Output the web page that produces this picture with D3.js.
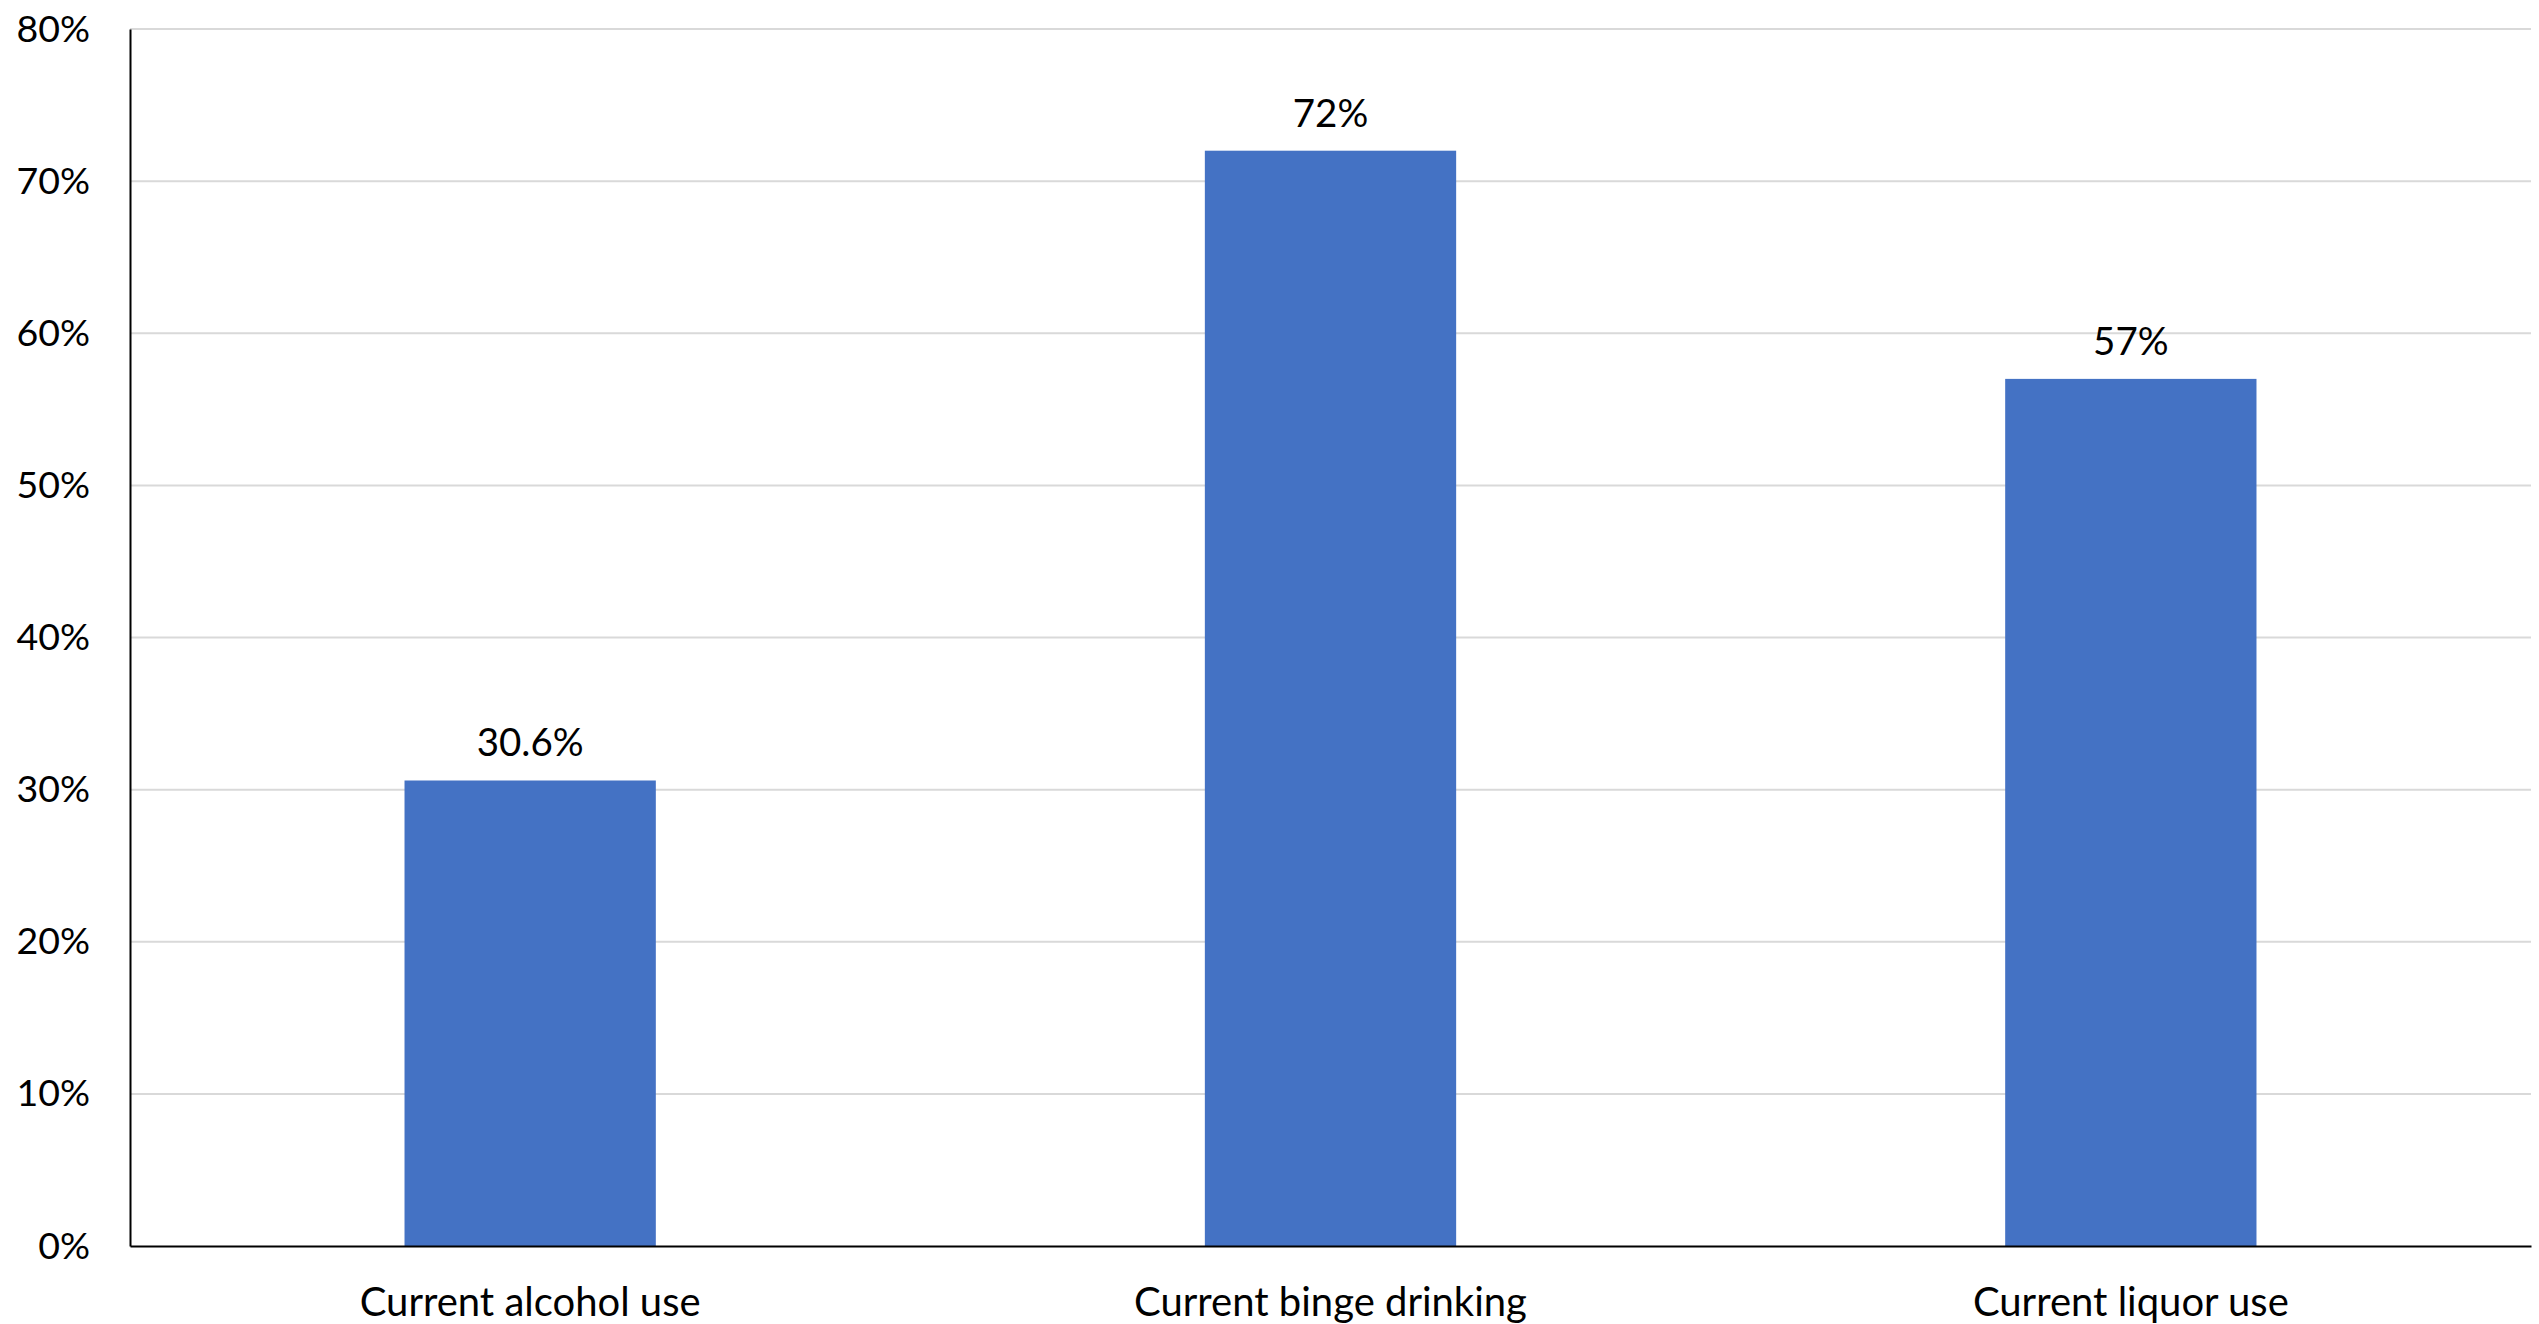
<!DOCTYPE html>
<html>
<head>
<meta charset="utf-8">
<script src="https://cdn.jsdelivr.net/npm/d3@7"></script>
<style>
  html, body { margin: 0; padding: 0; background: #fff; }
  svg { display: block; }
  text { font-family: Lato, "Open Sans", sans-serif; fill: #000; }
</style>
</head>
<body>
<svg id="chart" width="2539" height="1324"></svg>
<script>
const categories = ["Current alcohol use", "Current binge drinking", "Current liquor use"];
const values = [30.6, 72, 57];
const valueLabels = ["30.6%", "72%", "57%"];
const yTicks = [0, 10, 20, 30, 40, 50, 60, 70, 80];

const W = 2539, H = 1324;
const margin = { top: 29, right: 8, bottom: 78, left: 130 };
const svg = d3.select("#chart");

const x = d3.scaleBand()
  .domain(categories)
  .range([margin.left, W - margin.right])
  .paddingInner(0.686)
  .paddingOuter(0.343);

const y = d3.scaleLinear()
  .domain([0, 80])
  .range([H - margin.bottom, margin.top]);

// gridlines
svg.append("g")
  .selectAll("line")
  .data(yTicks.filter(d => d > 0))
  .join("line")
  .attr("x1", margin.left)
  .attr("x2", W - margin.right)
  .attr("y1", d => y(d))
  .attr("y2", d => y(d))
  .attr("stroke", "#d9d9d9")
  .attr("stroke-width", 2);

// bars
svg.append("g")
  .selectAll("rect")
  .data(values)
  .join("rect")
  .attr("x", (d, i) => x(categories[i]))
  .attr("width", x.bandwidth())
  .attr("y", d => y(d))
  .attr("height", d => y(0) - y(d))
  .attr("fill", "#4472c4");

// data labels
svg.append("g")
  .selectAll("text")
  .data(values)
  .join("text")
  .attr("x", (d, i) => x(categories[i]) + x.bandwidth() / 2)
  .attr("y", d => y(d) - 24)
  .attr("text-anchor", "middle")
  .style("font-size", "38.5px")
  .text((d, i) => valueLabels[i]);

// y axis
const yAxis = d3.axisLeft(y)
  .tickValues(yTicks)
  .tickSize(0)
  .tickPadding(40)
  .tickFormat(d => d + "%");
const gy = svg.append("g")
  .attr("transform", `translate(${margin.left},0)`)
  .call(yAxis);
gy.select(".domain").attr("stroke", "#000").attr("stroke-width", 2);
gy.selectAll("text").style("font-size", "37.5px").style("font-family", "Lato, 'Open Sans', sans-serif").attr("fill", "#000");

// x axis
const xAxis = d3.axisBottom(x).tickSize(0).tickPadding(42);
const gx = svg.append("g")
  .attr("transform", `translate(0,${H - margin.bottom})`)
  .call(xAxis);
gx.select(".domain").attr("stroke", "#000").attr("stroke-width", 2);
gx.selectAll("text").style("font-size", "40px").style("font-family", "Lato, 'Open Sans', sans-serif").attr("fill", "#000");
</script>
</body>
</html>
